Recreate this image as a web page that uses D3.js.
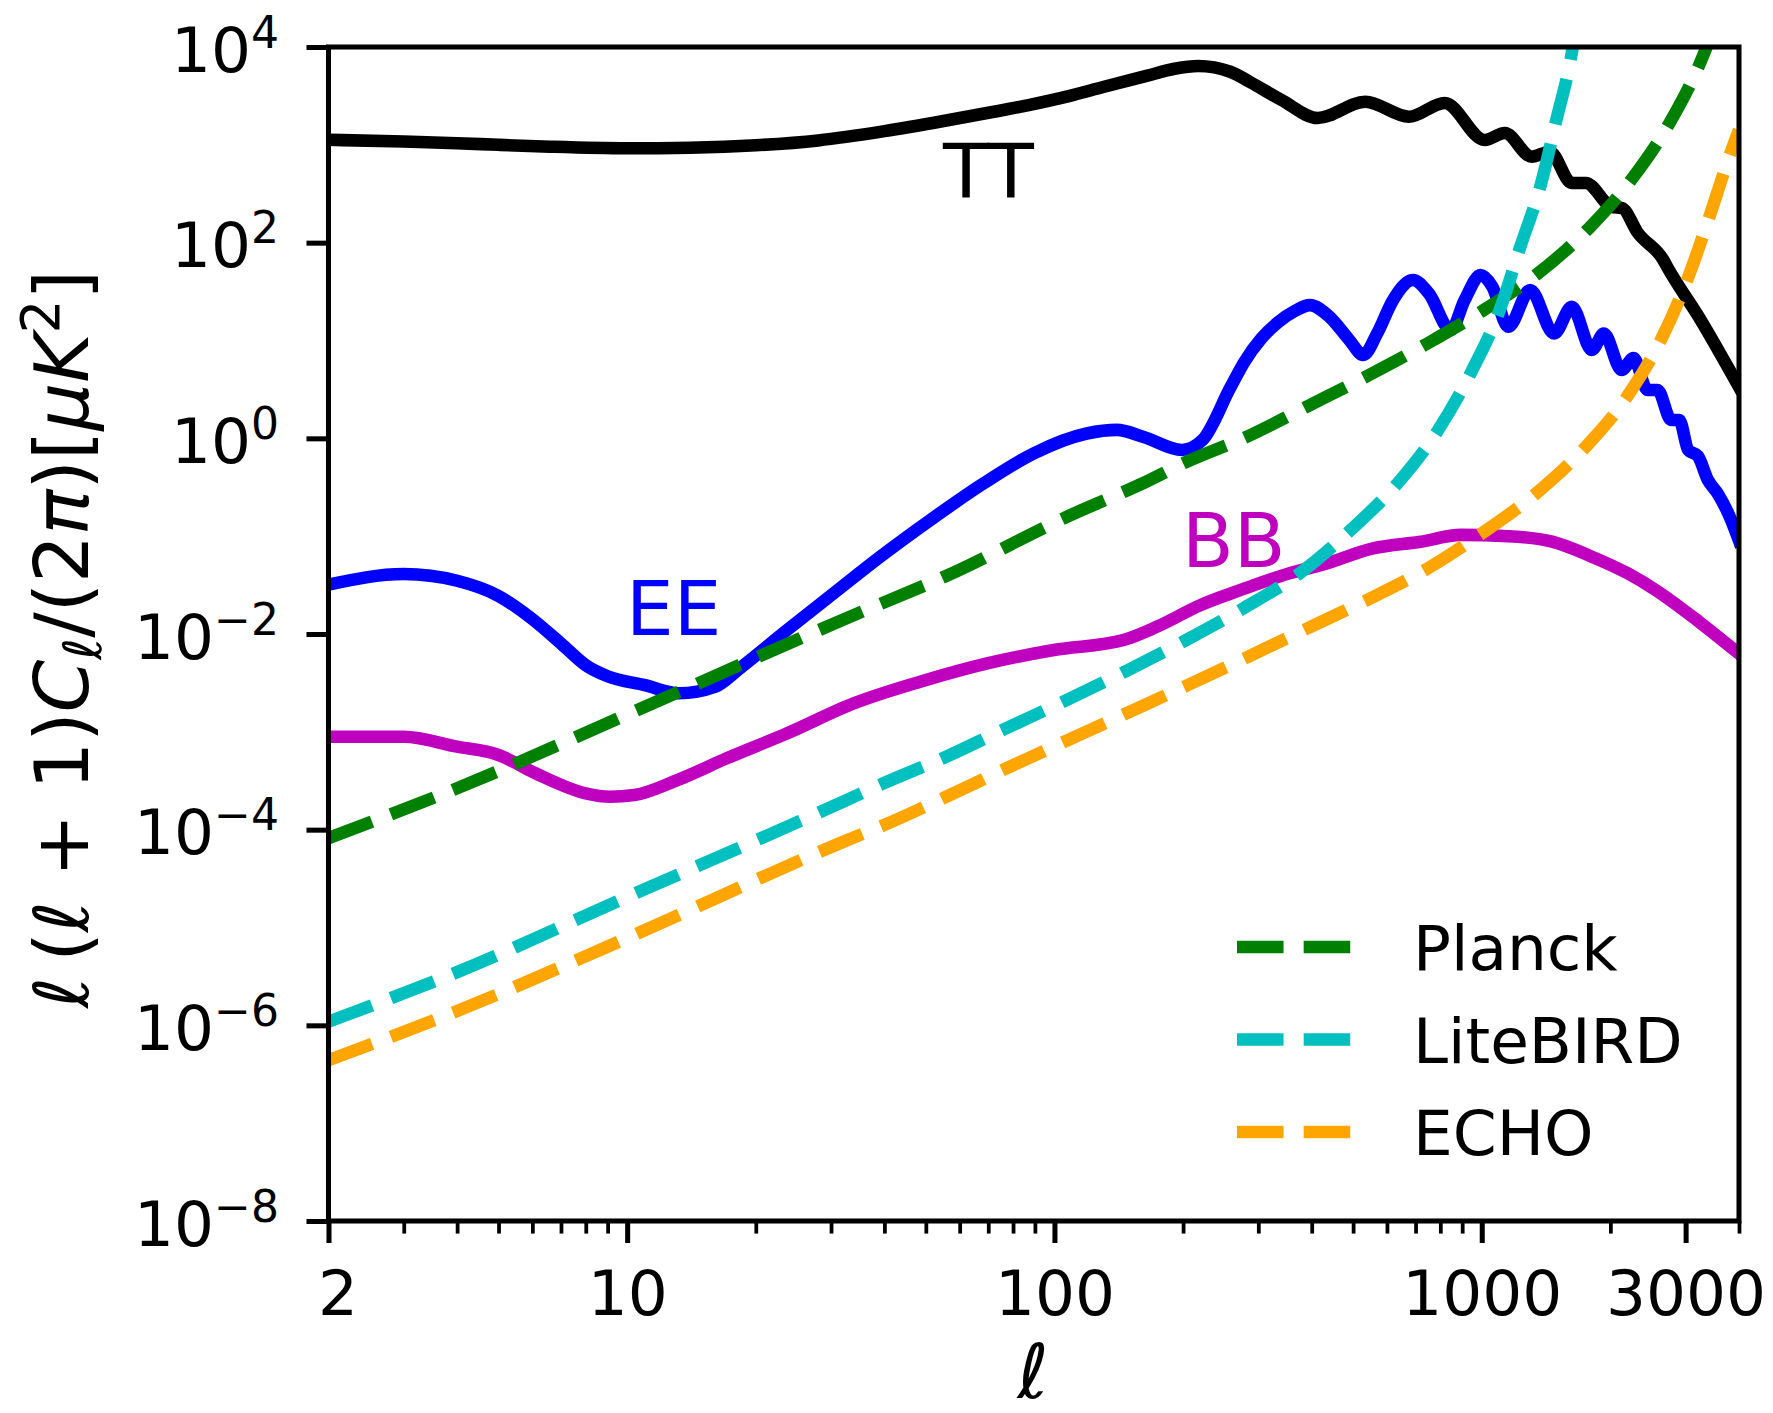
<!DOCTYPE html>
<html>
<head>
<meta charset="utf-8">
<script src="https://cdn.jsdelivr.net/npm/d3@7/dist/d3.min.js"></script>
<style>
    html, body { margin: 0; padding: 0; background: #fff; }
    svg { display: block; font-family: "DejaVu Sans", sans-serif; }
</style>
</head>
<body>
<svg id="chart" width="1773" height="1413"></svg>
<script>
if(!d3){
    throw new Error("d3 failed to load");
}

// --- data: multipole l and l(l+1)C_l/2pi in muK^2 ---
const ttEll = [2, 3, 4, 5, 6.6, 10, 14, 20, 28, 40, 55, 69, 87, 108, 130, 165, 191, 217, 258, 286, 340, 413,
               534, 675, 819, 1016, 1132, 1309, 1443, 1625, 1752, 2016, 2128, 2319, 2661, 2719, 3222, 4000];
const ttVal = [1125, 1080, 1040, 1000, 957, 922, 935, 990, 1110, 1380, 1750, 2100, 2550, 3150, 3900, 5100, 6000, 6400, 5590, 4420, 2873, 1880,
               2760, 1939, 2678, 1120, 1321, 757, 851, 407, 407, 232, 226, 126, 66.5, 56, 17.4, 3.35];

const eeEll = [2, 3, 4, 5, 6, 7, 8, 9, 11, 13.2, 16.1, 18.4, 23.7, 30.4, 39.1, 51.2, 68.3, 89.5, 119, 140, 161, 199, 222,
               258, 278, 305, 334, 365, 396, 440, 490, 528, 569, 620, 690, 752, 846, 912, 994, 1059, 1154, 1298, 1477, 1625, 1810,
               1931, 2125, 2266, 2443, 2578, 2777, 2899, 3042, 3205, 3383, 3572, 3800, 4000];
const eeVal = [0.032, 0.041, 0.035, 0.0245, 0.0142, 0.008, 0.0048, 0.0037, 0.003, 0.00248, 0.0029, 0.0045, 0.011, 0.026, 0.0616, 0.146, 0.347, 0.703, 1.12, 1.22, 1.04, 0.76, 0.96,
               3.3, 6.0, 10.5, 15.4, 20, 23, 17.5, 10.1, 7.1, 11.8, 25.9, 41.5, 30.3, 12.8, 25.9, 46.7, 35.5, 13.8, 32.8, 11.8, 22.1, 8.0,
               11.8, 4.99, 6.6, 3.12, 3.12, 1.54, 1.54, 0.76, 0.66, 0.375, 0.27, 0.16, 0.09];

const bbEll = [2, 3, 4, 5, 6.1, 8, 9.1, 10.4, 13.1, 17.1, 23.7, 33.9, 48.5, 69.6, 99.6, 145, 174, 220, 273, 355, 422,
               557, 720, 893, 1154, 1461, 1810, 2196, 2551, 3228, 4000];
const bbVal = [0.00089, 0.00089, 0.000705, 0.00058, 0.000377, 0.000235, 0.000217, 0.000226, 0.000321, 0.000536, 0.000966, 0.00195, 0.00325, 0.005, 0.00686, 0.00867, 0.0119, 0.0198, 0.0282, 0.0417, 0.0507,
               0.075, 0.0878, 0.103, 0.1, 0.0878, 0.0617, 0.0417, 0.0282, 0.0133, 0.0063];

// noise curves
const plEll = [2, 4, 10, 32, 58, 107, 161, 204, 285, 393, 545, 747, 1004, 1355, 1790, 2252, 2748, 3228, 3600];
const plVal = [8.2e-5, 2.65e-4, 1.5e-3, 0.014, 0.0423, 0.158, 0.347, 0.577, 1.06, 2.15, 4.44, 9.35, 20.1, 48.6, 143.6, 455, 1660, 6550, 22000];

const lbEll = [2, 4, 10, 32, 39.8, 55.8, 77.2, 106.7, 147.5, 202.7, 278, 377, 493, 640, 793, 948, 1100, 1230, 1376, 1498, 1609, 1700];
const lbVal = [1.09e-6, 3.5e-6, 2.05e-5, 1.93e-4, 2.98e-4, 5.57e-4, 1.09e-3, 2.11e-3, 4.2e-3, 8.6e-3, 0.0185, 0.0425, 0.115, 0.36, 1.24, 4.9, 20.1, 89.7, 398, 1867, 6920, 30000];

const ecEll = [2, 4, 10, 32, 40.2, 55.8, 77.2, 106.7, 147.5, 205, 284, 392, 543, 748, 1004, 1341, 1752, 2196, 2633, 3042, 3421, 3830, 4000];
const ecVal = [4.4e-7, 1.4e-6, 7.8e-6, 7.5e-5, 1.13e-4, 2.17e-4, 4.24e-4, 8.1e-4, 1.55e-3, 3.0e-3, 5.86e-3, 0.0115, 0.0226, 0.0469, 0.108, 0.274, 0.82, 2.73, 10.4, 44.3, 192, 851, 1420];

const xMajor = [2, 10, 100, 1000, 3000];
const xMinor = [3, 4, 5, 6, 7, 8, 9, 20, 30, 40, 50, 60, 70, 80, 90, 200, 300, 400, 500, 600, 700, 800, 900, 2000, 4000];
const yMajorExp = [4, 2, 0, -2, -4, -6, -8];
const legendNames = ["Planck", "LiteBIRD", "ECHO"];

// --- layout (px) ---
const W = 1773, H = 1413;
const L = 328.5, R = 1739, T = 47, B = 1221;
const PT = 6.29;   // pixels per point in the original
const lw = 2 * PT;
const dash = [3.7 * lw, 1.6 * lw].join(",");

const x = d3.scaleLog().domain([2, 4000]).range([L, R]);
const y = d3.scaleLog().domain([1e-8, 1e4]).range([B, T]);

const svg = d3.select("#chart");
svg.append("rect").attr("width", W).attr("height", H).attr("fill", "#fff");

svg.append("clipPath").attr("id", "plotclip")
    .append("rect").attr("x", L).attr("y", T).attr("width", R - L).attr("height", B - T);

const zip = (a, b) => a.map((v, i) => [v, b[i]]);

const series = [
    {pts: zip(ttEll, ttVal), color: "#000000"},
    {pts: zip(eeEll, eeVal), color: "#0000ff"},
    {pts: zip(bbEll, bbVal), color: "#bf00bf"},
    {pts: zip(plEll, plVal), color: "#008000", dashed: true},
    {pts: zip(lbEll, lbVal), color: "#00bfbf", dashed: true},
    {pts: zip(ecEll, ecVal), color: "#ffa500", dashed: true},
];

const line = d3.line()
    .x(d => x(d[0]))
    .y(d => y(d[1]))
    .curve(d3.curveMonotoneX);

const plot = svg.append("g").attr("clip-path", "url(#plotclip)");
series.forEach(s => {
    plot.append("path")
        .attr("d", line(s.pts))
        .attr("fill", "none")
        .attr("stroke", s.color)
        .attr("stroke-width", lw)
        .attr("stroke-linejoin", "round")
        .attr("stroke-linecap", s.dashed ? "butt" : "square")
        .attr("stroke-dasharray", s.dashed ? dash : null);
});

// curve labels
const labels = [
    {t: "TT", x: 943, y: 197, c: "#000000"},
    {t: "EE", x: 626, y: 635, c: "#0000ff"},
    {t: "BB", x: 1182, y: 567, c: "#bf00bf"},
];
labels.forEach(l => svg.append("text")
    .attr("x", l.x).attr("y", l.y)
    .attr("font-size", 12 * PT)
    .attr("fill", l.c)
    .text(l.t));

// x axis
const xAxis = svg.append("g").attr("transform", `translate(0,${B})`)
    .call(d3.axisBottom(x).tickValues(xMajor).tickSize(3.5 * PT).tickSizeOuter(0)
        .tickPadding(27).tickFormat(d3.format("d")));
xAxis.select(".domain").remove();
xAxis.selectAll("line").attr("stroke-width", 0.8 * PT);
xAxis.selectAll("text").attr("font-size", 10 * PT).attr("font-family", "DejaVu Sans").attr("fill", "#000")
    .attr("dx", d => d === 2 ? 9 : 0);

const xMin = svg.append("g").attr("transform", `translate(0,${B})`)
    .call(d3.axisBottom(x).tickValues(xMinor).tickSize(2 * PT).tickSizeOuter(0).tickFormat(""));
xMin.select(".domain").remove();
xMin.selectAll("line").attr("stroke-width", 0.6 * PT);

// y axis with 10^n labels
const yAxis = svg.append("g").attr("transform", `translate(${L},0)`)
    .call(d3.axisLeft(y).tickValues(yMajorExp.map(e => Math.pow(10, e)))
        .tickSize(3.5 * PT).tickSizeOuter(0).tickFormat(""));
yAxis.select(".domain").remove();
yAxis.selectAll("line").attr("stroke-width", 0.8 * PT);
yAxis.selectAll(".tick").each(function(d){
    const e = Math.round(Math.log10(d));
    const t = d3.select(this).append("text")
        .attr("x", 279 - L).attr("y", 24)
        .attr("text-anchor", "end")
        .attr("font-size", 10 * PT)
        .attr("font-family", "DejaVu Sans")
        .attr("fill", "#000");
    t.append("tspan").text("10");
    t.append("tspan").attr("font-size", 7 * PT).attr("dy", -24)
        .text(e < 0 ? "\u2212" + (-e) : String(e));
});

// spines
svg.append("rect")
    .attr("x", L).attr("y", T).attr("width", R - L).attr("height", B - T)
    .attr("fill", "none").attr("stroke", "#000").attr("stroke-width", 0.8 * PT);

// axis labels
svg.append("text")
    .attr("x", 1033).attr("y", 1398)
    .attr("text-anchor", "middle")
    .attr("font-size", 12 * PT)
    .attr("font-style", "italic")
    .text("\u2113");

const yl = svg.append("text")
    .attr("transform", "translate(88,639) rotate(-90)")
    .attr("text-anchor", "middle")
    .attr("font-size", 12 * PT);
const parts = [
    {t: "\u2113", i: true},
    {t: "\u2009("},
    {t: "\u2113", i: true},
    {t: " + 1)"},
    {t: "C", i: true},
    {t: "\u2113", i: true, dy: 13, fs: 0.7},
    {t: "/(2", dy: -13},
    {t: "\u03c0", i: true},
    {t: ")["},
    {t: "\u03bcK", i: true},
    {t: "2", dy: -29, fs: 0.7},
    {t: "]", dy: 29},
];
parts.forEach(p => {
    const s = yl.append("tspan").text(p.t);
    if(p.i) s.attr("font-style", "italic");
    if(p.dy) s.attr("dy", p.dy);
    if(p.fs) s.attr("font-size", 12 * PT * p.fs);
});

// legend (no frame)
const legend = svg.append("g");
series.filter(s => s.dashed).forEach((s, i) => {
    const ly = 947 + i * 92.5;
    legend.append("line")
        .attr("x1", 1237).attr("x2", 1237 + 20 * PT)
        .attr("y1", ly).attr("y2", ly)
        .attr("stroke", s.color)
        .attr("stroke-width", lw)
        .attr("stroke-dasharray", dash);
    legend.append("text")
        .attr("x", 1413).attr("y", ly + 23)
        .attr("font-size", 10 * PT)
        .text(legendNames[i]);
});
</script>
</body>
</html>
